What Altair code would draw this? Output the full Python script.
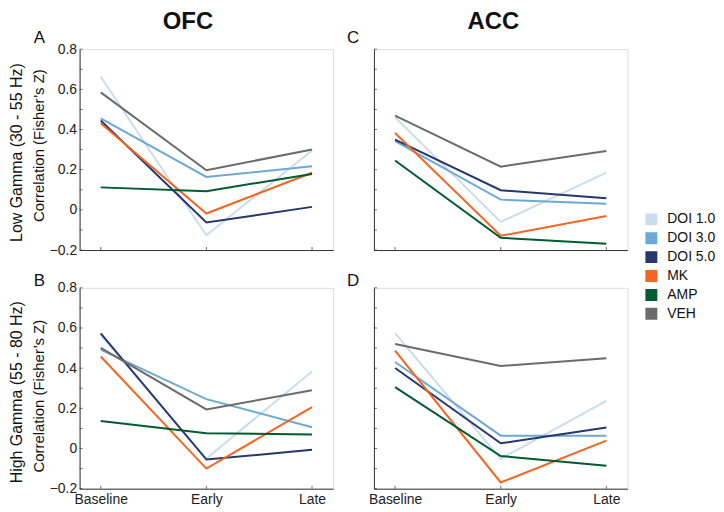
import altair as alt
import pandas as pd

phases = ["Baseline", "Early", "Late"]
treatments = ["DOI 1.0", "DOI 3.0", "DOI 5.0", "MK", "AMP", "VEH"]
colors = ["#c9ddef", "#6ea9d6", "#26376f", "#f26522", "#005a32", "#6b6b6b"]
y_ticks = [-0.2, -0.1, 0.0, 0.1, 0.2, 0.3, 0.4, 0.5, 0.6, 0.7, 0.8]

# values per treatment: Baseline, Early, Late
ofc_low = {
    "DOI 1.0": [0.663, -0.126, 0.296],
    "DOI 3.0": [0.456, 0.164, 0.217],
    "DOI 5.0": [0.445, -0.063, 0.015],
    "MK": [0.431, -0.018, 0.185],
    "AMP": [0.112, 0.093, 0.179],
    "VEH": [0.585, 0.197, 0.301],
}
acc_low = {
    "DOI 1.0": [0.461, -0.060, 0.185],
    "DOI 3.0": [0.342, 0.051, 0.031],
    "DOI 5.0": [0.350, 0.098, 0.058],
    "MK": [0.383, -0.129, -0.030],
    "AMP": [0.246, -0.139, -0.169],
    "VEH": [0.469, 0.215, 0.293],
}
ofc_high = {
    "DOI 1.0": [0.565, -0.050, 0.384],
    "DOI 3.0": [0.492, 0.246, 0.106],
    "DOI 5.0": [0.573, -0.055, -0.006],
    "MK": [0.458, -0.100, 0.206],
    "AMP": [0.137, 0.076, 0.070],
    "VEH": [0.501, 0.195, 0.290],
}
acc_high = {
    "DOI 1.0": [0.574, -0.052, 0.237],
    "DOI 3.0": [0.431, 0.064, 0.064],
    "DOI 5.0": [0.401, 0.026, 0.105],
    "MK": [0.487, -0.169, 0.039],
    "AMP": [0.306, -0.037, -0.086],
    "VEH": [0.520, 0.411, 0.449],
}

W, H = 255, 202
FONT = "Liberation Sans"
AXC = "#333333"


def text_layer(txt, x, y, size, weight="normal", angle=0, align="left"):
    return alt.Chart(pd.DataFrame({"t": [txt]})).mark_text(
        fontSize=size, fontWeight=weight, angle=angle, align=align,
        baseline="alphabetic", font=FONT, color="#111111"
    ).encode(text="t:N", x=alt.value(x), y=alt.value(y))


def panel(vals, letter, letter_x, letter_y, left, bottom, title=None, title_x=0,
          band=None, band_y=0, corr_y=0):
    rows = []
    for t in treatments:
        for p, v in zip(phases, vals[t]):
            rows.append({"treatment": t, "phase": p, "value": v})
    df = pd.DataFrame(rows)

    xs = alt.Scale(type="point", domain=phases, padding=0.2)
    ys = alt.Scale(domain=[-0.2, 0.8], nice=False, zero=False)
    xa = alt.Axis(title=None, labels=bottom, ticks=False, labelAngle=0,
                  labelFontSize=14, labelPadding=4, domainColor=AXC, grid=False,
                  labelColor="#222222", labelFont=FONT)
    ya = alt.Axis(title=None, labels=left, ticks=False, values=y_ticks,
                  labelExpr="round(datum.value*10) % 2 == 0 ? format(datum.value, '.1~f') : ''",
                  labelFontSize=14, labelPadding=3, domainColor=AXC, grid=False,
                  labelColor="#222222", labelFont=FONT)

    lines = alt.Chart(df).mark_line(strokeWidth=2).encode(
        x=alt.X("phase:N", scale=xs, axis=xa, sort=phases),
        y=alt.Y("value:Q", scale=ys, axis=ya),
        color=alt.Color(
            "treatment:N",
            scale=alt.Scale(domain=treatments, range=colors),
            legend=alt.Legend(
                title=None, orient="none", legendX=568, legendY=164,
                symbolType="square", symbolSize=36, symbolStrokeWidth=6,
                symbolOpacity=1, labelFontSize=14, labelFont=FONT,
                labelColor="#111111", rowPadding=4, labelOffset=9, padding=0,
                clipHeight=14.3,
            ),
        ),
        detail="treatment:N",
    )

    yt = alt.Chart(pd.DataFrame({"value": y_ticks})).mark_tick(
        size=3, thickness=1, color=AXC, orient="horizontal"
    ).encode(y=alt.Y("value:Q", scale=ys, axis=ya), x=alt.value(1.5))

    xt = alt.Chart(pd.DataFrame({"phase": phases})).mark_tick(
        size=3, thickness=1, color=AXC, orient="vertical"
    ).encode(x=alt.X("phase:N", scale=xs, axis=xa, sort=phases), y=alt.value(H - 1.5))

    layers = [lines, yt, xt, text_layer(letter, letter_x, letter_y, 17)]
    if title:
        layers.append(text_layer(title, title_x, -20.5, 24, weight="bold", align="center"))
    if band:
        layers.append(text_layer(band, -58, band_y, 16, angle=270, align="center"))
        layers.append(text_layer("Correlation (Fisher\u2019s Z)", -36, corr_y, 15,
                                 angle=270, align="center"))
    return alt.layer(*layers).properties(width=W, height=H)


pA = panel(ofc_low, "A", -46, -6, True, False, title="OFC", title_x=109,
           band="Low Gamma (30 - 55 Hz)", band_y=104, corr_y=97)
pC = panel(acc_low, "C", -27, -6, False, False, title="ACC", title_x=120)
pB = panel(ofc_high, "B", -46, -2, True, True,
           band="High Gamma (55 - 80 Hz)", band_y=105, corr_y=109)
pD = panel(acc_high, "D", -27, -2, False, True)

chart = alt.concat(
    pA, pC, pB, pD, columns=2,
    spacing=alt.RowColnumber(row=38, column=41),
    bounds="flush",
).properties(padding=0).configure_view(stroke=None).configure(font=FONT)

chart.save("out.html", embed_options={"renderer": "svg", "actions": False})
